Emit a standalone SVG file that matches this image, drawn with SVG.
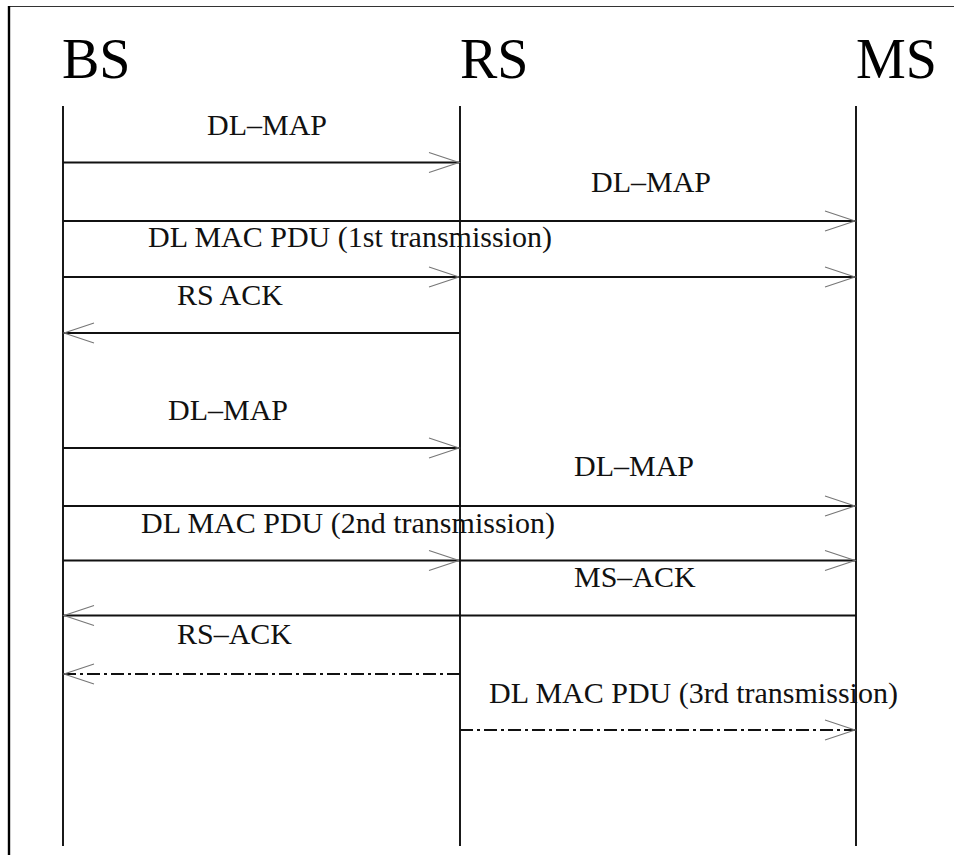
<svg xmlns="http://www.w3.org/2000/svg" width="954" height="855" viewBox="0 0 954 855">
<style>
  .title { font-family: "Liberation Serif", "Times New Roman", serif; font-size: 56px; fill: #000; }
  .lbl { font-family: "Liberation Serif", "Times New Roman", serif; font-size: 30px; fill: #111; }
  .life { stroke: #000; stroke-width: 1.8; fill: none; }
  .msg { stroke: #111; stroke-width: 1.8; fill: none; }
  .dd { stroke: #111; stroke-width: 1.8; fill: none; stroke-dasharray: 13 4 3 4; }
</style>
<defs>
  <marker id="open" markerUnits="userSpaceOnUse" viewBox="-32 -12 34 24" refX="0" refY="0" markerWidth="34" markerHeight="24" orient="auto" overflow="visible">
    <path d="M-30,-10 L0,0 L-30,10" fill="none" stroke="#777" stroke-width="1.1"/>
  </marker>
</defs>
<rect width="954" height="855" fill="#fff"/>
<g id="frame">
  <line x1="8" y1="6.5" x2="954" y2="6.5" stroke="#333" stroke-width="1.2"/>
  <line x1="9" y1="6" x2="9" y2="855" stroke="#000" stroke-width="2.4"/>
</g>
<g id="BS">
  <text class="title" x="62" y="78">BS</text>
  <line class="life" x1="63" y1="106" x2="63" y2="846"/>
</g>
<g id="RS">
  <text class="title" x="460" y="78">RS</text>
  <line class="life" x1="460" y1="106" x2="460" y2="846"/>
</g>
<g id="MS">
  <text class="title" x="856" y="78">MS</text>
  <line class="life" x1="856" y1="106" x2="856" y2="846"/>
</g>
<g id="connectors">
  <line class="msg" x1="63" y1="162.5" x2="459" y2="162.5" marker-end="url(#open)"/>
  <line class="msg" x1="63" y1="221" x2="855" y2="221" marker-end="url(#open)"/>
  <line class="msg" x1="63" y1="277" x2="459" y2="277" marker-end="url(#open)"/>
  <line class="msg" x1="459" y1="277" x2="855" y2="277" marker-end="url(#open)"/>
  <line class="msg" x1="460" y1="333" x2="64" y2="333" marker-end="url(#open)"/>
  <line class="msg" x1="63" y1="448" x2="459" y2="448" marker-end="url(#open)"/>
  <line class="msg" x1="63" y1="506" x2="855" y2="506" marker-end="url(#open)"/>
  <line class="msg" x1="63" y1="560.5" x2="459" y2="560.5" marker-end="url(#open)"/>
  <line class="msg" x1="459" y1="560.5" x2="855" y2="560.5" marker-end="url(#open)"/>
  <line class="msg" x1="856" y1="615.5" x2="64" y2="615.5" marker-end="url(#open)"/>
  <line class="dd" x1="460" y1="674" x2="64" y2="674" marker-end="url(#open)"/>
  <line class="dd" x1="460" y1="730" x2="855" y2="730" marker-end="url(#open)"/>
</g>
<g id="labels">
  <text class="lbl" x="207" y="135">DL–MAP</text>
  <text class="lbl" x="591" y="192">DL–MAP</text>
  <text class="lbl" x="148" y="247">DL MAC PDU (1st transmission)</text>
  <text class="lbl" x="177" y="305">RS ACK</text>
  <text class="lbl" x="168" y="420">DL–MAP</text>
  <text class="lbl" x="574" y="476">DL–MAP</text>
  <text class="lbl" x="141" y="533">DL MAC PDU (2nd transmission)</text>
  <text class="lbl" x="574" y="587">MS–ACK</text>
  <text class="lbl" x="177" y="644">RS–ACK</text>
  <text class="lbl" x="489" y="703">DL MAC PDU (3rd transmission)</text>
</g>
</svg>
